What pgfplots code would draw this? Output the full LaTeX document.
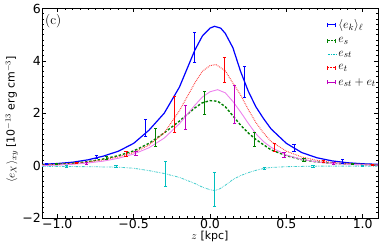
\documentclass[border=0pt]{standalone}
\usepackage{fontspec}
\setmainfont{DejaVu Sans}
\usepackage{pgfplots}
\usepackage{pgfplotstable}
\pgfplotsset{compat=1.18}
\newfontfamily\lmr{Latin Modern Roman}
\definecolor{cgreen}{rgb}{0,0.5,0}
\definecolor{ccyan}{rgb}{0,0.75,0.75}
\definecolor{cmag}{rgb}{0.75,0,0.75}
\definecolor{cviol}{rgb}{0.93,0.51,0.93}
\definecolor{lcyan}{rgb}{0.25,0.8,0.8}
\definecolor{lred}{rgb}{1,0.25,0.25}
\pgfplotsset{errp/.style={color=#1, only marks, mark=text, text mark={},
  error bars/.cd, y dir=both, y explicit,
  error bar style={draw=#1, solid, line width=1pt},
  error mark options={rotate=90, draw=#1, solid, mark size=1.6pt, line width=0.8pt}}}

\pgfplotstableread{
x y
-1.1 0.05
-1.0 0.08
-0.9 0.13
-0.8 0.22
-0.7 0.36
-0.6 0.55
-0.5 0.85
-0.4 1.35
-0.3 2.0
-0.2 3.0
-0.1 4.4
-0.05 4.95
0.0 5.25
0.03 5.32
0.07 5.25
0.1 5.05
0.15 4.5
0.2 3.6
0.25 2.85
0.3 2.25
0.35 1.8
0.4 1.4
0.5 0.85
0.6 0.5
0.7 0.3
0.8 0.18
0.9 0.11
1.0 0.07
1.1 0.05
}\blueline
\pgfplotstableread{
x y
-1.1 0.03
-1.0 0.05
-0.9 0.09
-0.8 0.15
-0.7 0.25
-0.6 0.38
-0.5 0.56
-0.4 0.85
-0.3 1.25
-0.2 1.7
-0.1 2.2
-0.05 2.4
0.0 2.48
0.05 2.46
0.1 2.25
0.15 1.9
0.2 1.55
0.25 1.25
0.3 1.0
0.35 0.8
0.4 0.6
0.5 0.38
0.6 0.23
0.7 0.14
0.8 0.09
0.9 0.06
1.0 0.04
1.1 0.03
}\greenline
\pgfplotstableread{
x y
-1.1 -0.03
-0.8 -0.04
-0.6 -0.06
-0.5 -0.1
-0.4 -0.19
-0.3 -0.3
-0.2 -0.45
-0.1 -0.68
-0.05 -0.82
0.0 -0.92
0.03 -0.95
0.06 -0.9
0.1 -0.75
0.15 -0.53
0.2 -0.38
0.25 -0.27
0.3 -0.18
0.35 -0.11
0.4 -0.07
0.5 -0.04
0.7 -0.02
1.1 -0.02
}\cyanline
\pgfplotstableread{
x y
-1.1 0.03
-1.0 0.05
-0.9 0.08
-0.8 0.14
-0.7 0.22
-0.6 0.33
-0.5 0.5
-0.4 0.78
-0.3 1.25
-0.2 2.1
-0.1 3.15
-0.05 3.6
0.0 3.82
0.04 3.86
0.1 3.62
0.15 3.15
0.2 2.7
0.25 2.15
0.3 1.65
0.35 1.25
0.4 0.92
0.5 0.55
0.6 0.33
0.7 0.2
0.8 0.12
0.9 0.08
1.0 0.05
1.1 0.03
}\redline
\pgfplotstableread{
x y
-1.1 0.0
-1.0 0.02
-0.9 0.05
-0.8 0.1
-0.7 0.17
-0.6 0.28
-0.5 0.44
-0.4 0.68
-0.3 1.05
-0.2 1.6
-0.1 2.3
-0.05 2.62
0.0 2.82
0.05 2.9
0.1 2.78
0.15 2.45
0.2 2.05
0.25 1.62
0.3 1.22
0.35 0.92
0.4 0.7
0.5 0.4
0.6 0.24
0.7 0.14
0.8 0.08
0.9 0.05
1.0 0.03
1.1 0.02
}\magline

\pgfplotstableread{
x y e
-1.07 0.06 0.03
-0.745 0.33 0.06
-0.42 1.43 0.33
-0.10 4.5 0.57
0.225 3.2 0.6
0.55 0.67 0.13
0.87 0.16 0.06
}\blueerr
\pgfplotstableread{
x y e
-1.005 0.05 0.02
-0.68 0.29 0.05
-0.355 1.08 0.35
-0.035 2.4 0.45
0.29 1.0 0.25
0.615 0.22 0.05
0.935 0.06 0.02
}\greenerr
\pgfplotstableread{
x y e
-0.94 -0.03 0.02
-0.615 -0.03 0.03
-0.29 -0.32 0.48
0.03 -0.92 0.65
0.355 -0.1 0.05
0.675 -0.03 0.02
1.0 -0.02 0.01
}\cyanerr
\pgfplotstableread{
x y e
-0.875 0.1 0.03
-0.55 0.45 0.1
-0.23 1.96 0.69
0.095 3.64 0.48
0.42 0.7 0.16
0.745 0.17 0.04
1.065 0.04 0.02
}\rederr
\pgfplotstableread{
x y e
-0.81 0.08 0.05
-0.485 0.47 0.07
-0.16 1.85 0.45
0.16 2.35 0.73
0.485 0.42 0.09
0.81 0.08 0.03
}\magerr

\begin{document}
\begin{tikzpicture}
\begin{axis}[
  scale only axis, width=336pt, height=209.5pt,
  xmin=-1.1, xmax=1.1, ymin=-2, ymax=6,
  xtick={-1,-0.5,0,0.5,1},
  xticklabels={−1.0,−0.5,0.0,0.5,1.0},
  ytick={-2,0,2,4,6},
  yticklabels={−2,0,2,4,6},
  minor x tick num=9, minor y tick num=9,
  tick align=inside, xtick pos=both, ytick pos=both,
  major tick length=4pt, minor tick length=2pt,
  tick style={black, line width=0.6pt},
  axis line style={line width=0.8pt},
  tick label style={font=\fontsize{12.5}{14}\selectfont},
  xticklabel style={inner ysep=1.5pt},
  yticklabel style={inner xsep=1pt},
  xlabel style={font=\fontsize{11}{13}\selectfont, yshift=3pt},
  ylabel style={font=\fontsize{11}{13}\selectfont, xshift=-6pt},
  xlabel={$z$ [kpc]},
  ylabel={$\langle e_X\rangle_{xy}$ [10$^{-13}$ erg cm$^{-3}$]},
  legend style={at={(1,1)}, anchor=north east, draw=none, fill=none,
    font=\fontsize{12.5}{14}\selectfont, row sep=3pt, xshift=0pt, yshift=-9pt,
    inner sep=0pt},
  legend cell align=left,
]
\addplot[blue, line width=1.2pt, forget plot] table[x=x,y=y] {\blueline};
\addplot[cgreen, line width=1.4pt, dash pattern=on 2.5pt off 1.8pt, forget plot] table[x=x,y=y] {\greenline};
\addplot[lcyan, line width=0.8pt, dash pattern=on 2.5pt off 1pt on 0.6pt off 1pt on 0.6pt off 1pt, forget plot] table[x=x,y=y] {\cyanline};
\addplot[lred, line width=1pt, dash pattern=on 0.8pt off 1pt, forget plot] table[x=x,y=y] {\redline};
\addplot[cviol, line width=0.9pt, forget plot] table[x=x,y=y] {\magline};

\addplot[
  legend image code/.code={\draw[blue,line width=1pt] (0cm,0cm)--(0.28cm,0cm) (0cm,-0.07cm)--(0cm,0.07cm) (0.28cm,-0.07cm)--(0.28cm,0.07cm);},
  errp=blue]
  table[x=x,y=y,y error=e] {\blueerr};
\addlegendentry{$\langle e_k\rangle_\ell$}
\addplot[
  legend image code/.code={\draw[cgreen,line width=1pt, dash pattern=on 2pt off 1pt] (0cm,0cm)--(0.28cm,0cm); \draw[cgreen,line width=1pt] (0cm,-0.07cm)--(0cm,0.07cm) (0.28cm,-0.07cm)--(0.28cm,0.07cm);},
  errp=cgreen]
  table[x=x,y=y,y error=e] {\greenerr};
\addlegendentry{$e_s$}
\addplot[
  legend image code/.code={\draw[ccyan,line width=0.8pt, dash pattern=on 2pt off 1pt on 0.6pt off 1pt] (0cm,0cm)--(0.28cm,0cm);},
  errp=ccyan]
  table[x=x,y=y,y error=e] {\cyanerr};
\addlegendentry{$e_{st}$}
\addplot[
  legend image code/.code={\draw[red,line width=1pt, dash pattern=on 0.8pt off 0.8pt] (0cm,0cm)--(0.28cm,0cm); \draw[red,line width=1pt] (0cm,-0.07cm)--(0cm,0.07cm) (0.28cm,-0.07cm)--(0.28cm,0.07cm);},
  errp=red]
  table[x=x,y=y,y error=e] {\rederr};
\addlegendentry{$e_t$}
\addplot[
  legend image code/.code={\draw[cmag,line width=1pt] (0cm,0cm)--(0.28cm,0cm) (0cm,-0.07cm)--(0cm,0.07cm) (0.28cm,-0.07cm)--(0.28cm,0.07cm);},
  errp=cmag]
  table[x=x,y=y,y error=e] {\magerr};
\addlegendentry{$e_{st}+e_t$}

\node[anchor=north west, font=\lmr\fontsize{13.5}{15}\selectfont, inner sep=0pt] at (rel axis cs:0.009,0.972) {(c)};
\end{axis}
\pgfresetboundingbox
\useasboundingbox ([shift={(-42pt,-32pt)}]current axis.south west) rectangle ([shift={(4pt,8.5pt)}]current axis.north east);
\end{tikzpicture}
\end{document}
